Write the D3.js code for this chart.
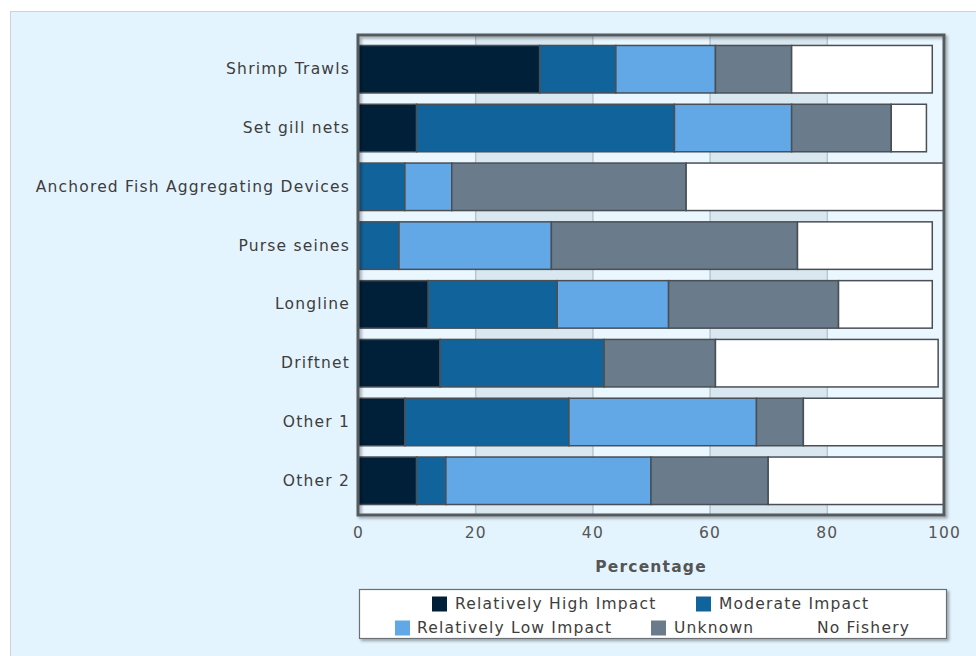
<!DOCTYPE html>
<html>
<head>
<meta charset="utf-8">
<script src="https://cdn.jsdelivr.net/npm/d3@7"></script>
<style>
  html, body { margin: 0; padding: 0; background: #ffffff; }
  svg { display: block; }
  text { letter-spacing: 1.2px; }
</style>
</head>
<body>
<svg id="chart" width="976" height="656"></svg>
<script>
// Fishing gear categories, top to bottom
const categories = [
  "Shrimp Trawls",
  "Set gill nets",
  "Anchored Fish Aggregating Devices",
  "Purse seines",
  "Longline",
  "Driftnet",
  "Other 1",
  "Other 2"
];

// Impact class names (stack order, left to right)
const seriesNames = [
  "Relatively High Impact",
  "Moderate Impact",
  "Relatively Low Impact",
  "Unknown",
  "No Fishery"
];

// Percentage of each gear in each impact class
const highImpact     = [31, 10, 0, 0, 12, 14, 8, 10];
const moderateImpact = [13, 44, 8, 7, 22, 28, 28, 5];
const lowImpact      = [17, 20, 8, 26, 19, 0, 32, 35];
const unknownImpact  = [13, 17, 40, 42, 29, 19, 8, 20];
const noFishery      = [24, 6, 44, 23, 16, 38, 24, 30];

const xTicks = [0, 20, 40, 60, 80, 100];
const xTitle = "Percentage";

const colors = ["#00203a", "#11649b", "#62a8e6", "#6a7b8b", "#ffffff"];

const rows = categories.map((c, i) => ({
  category: c,
  [seriesNames[0]]: highImpact[i],
  [seriesNames[1]]: moderateImpact[i],
  [seriesNames[2]]: lowImpact[i],
  [seriesNames[3]]: unknownImpact[i],
  [seriesNames[4]]: noFishery[i]
}));

const svg = d3.select("#chart");
const W = 976, H = 656;
const plot = { left: 358, right: 944, top: 35, bottom: 515 };
const font = "DejaVu Sans, Verdana, sans-serif";
const fontSize = 15.5;

// page panel
svg.append("rect").attr("x", 0).attr("y", 0).attr("width", W).attr("height", H).attr("fill", "#ffffff");
svg.append("rect").attr("x", 10.5).attr("y", 11.5).attr("width", W).attr("height", H)
  .attr("fill", "#e4f4fe").attr("stroke", "#c9d3da").attr("stroke-width", 1);

const defs = svg.append("defs");
const shadow = defs.append("filter").attr("id", "shadow").attr("x", "-5%").attr("y", "-20%").attr("width", "115%").attr("height", "160%");
shadow.append("feDropShadow").attr("dx", 2).attr("dy", 2).attr("stdDeviation", 1.5)
  .attr("flood-color", "#000").attr("flood-opacity", 0.35);

const x = d3.scaleLinear().domain([0, 100]).range([plot.left, plot.right]);
const y = d3.scaleBand().domain(categories).range([plot.top, plot.bottom])
  .paddingInner(0.192).paddingOuter(0.178);

// plot background with alternating bands
svg.append("rect").attr("x", plot.left).attr("y", plot.top)
  .attr("width", plot.right - plot.left).attr("height", plot.bottom - plot.top)
  .attr("fill", "#eaf7fe");
const bands = d3.pairs(xTicks).filter((_, i) => i % 2 === 1);
svg.append("g").selectAll("rect").data(bands).join("rect")
  .attr("x", d => x(d[0])).attr("y", plot.top)
  .attr("width", d => x(d[1]) - x(d[0])).attr("height", plot.bottom - plot.top)
  .attr("fill", "#d9e8f0");
svg.append("g").selectAll("line").data(xTicks.slice(1, -1)).join("line")
  .attr("x1", d => x(d) + 0.5).attr("x2", d => x(d) + 0.5)
  .attr("y1", plot.top).attr("y2", plot.bottom)
  .attr("stroke", "#b9c6ce").attr("stroke-width", 1.5);

// stacked bars
const stack = d3.stack().keys(seriesNames);
const stacked = stack(rows);
const layers = svg.append("g").selectAll("g").data(stacked).join("g")
  .attr("fill", (d, i) => colors[i]);
layers.selectAll("rect").data(d => d.filter(s => s[1] - s[0] > 0)).join("rect")
  .attr("x", d => x(d[0]))
  .attr("y", d => y(d.data.category))
  .attr("width", d => x(d[1]) - x(d[0]))
  .attr("height", y.bandwidth())
  .attr("stroke", "#4a4f55").attr("stroke-width", 1.5);

// plot frame
svg.append("rect").attr("x", plot.left).attr("y", plot.top)
  .attr("width", plot.right - plot.left).attr("height", plot.bottom - plot.top)
  .attr("fill", "none").attr("stroke", "#555a5f").attr("stroke-width", 3)
  .attr("filter", "url(#shadow)");

// category axis labels
const yAxis = d3.axisLeft(y).tickSize(0).tickPadding(8);
const yg = svg.append("g").attr("transform", `translate(${plot.left},0)`).call(yAxis);
yg.select(".domain").remove();
yg.selectAll("text").attr("font-family", font).attr("font-size", fontSize).attr("fill", "#3d3d3d");

// value axis labels
const xAxis = d3.axisBottom(x).tickValues(xTicks).tickSize(0).tickPadding(12);
const xg = svg.append("g").attr("transform", `translate(0,${plot.bottom})`).call(xAxis);
xg.select(".domain").remove();
xg.selectAll("text").attr("font-family", font).attr("font-size", fontSize).attr("fill", "#555555");

svg.append("text").attr("x", (plot.left + plot.right) / 2).attr("y", 572)
  .attr("text-anchor", "middle").attr("font-family", font).attr("font-size", fontSize)
  .attr("font-weight", "bold").attr("fill", "#555555").text(xTitle);

// legend
const legend = svg.append("g");
legend.append("rect").attr("x", 359.5).attr("y", 589.5).attr("width", 587).attr("height", 49)
  .attr("fill", "#ffffff").attr("stroke", "#6b6f73").attr("stroke-width", 1.2)
  .attr("filter", "url(#shadow)");
const legendPos = [
  { sx: 432, tx: 455, ty: 604 },
  { sx: 696, tx: 719, ty: 604 },
  { sx: 395, tx: 417, ty: 628 },
  { sx: 651, tx: 674, ty: 628 },
  { sx: 796, tx: 817, ty: 628 }
];
const items = legend.selectAll("g.item").data(seriesNames).join("g").attr("class", "item");
items.append("rect")
  .attr("x", (d, i) => legendPos[i].sx).attr("y", (d, i) => legendPos[i].ty - 7.5)
  .attr("width", 15).attr("height", 15)
  .attr("fill", (d, i) => colors[i]);
items.append("text")
  .attr("x", (d, i) => legendPos[i].tx).attr("y", (d, i) => legendPos[i].ty)
  .attr("dy", "0.35em").attr("font-family", font).attr("font-size", fontSize).attr("fill", "#3d3d3d")
  .text(d => d);
</script>
</body>
</html>
